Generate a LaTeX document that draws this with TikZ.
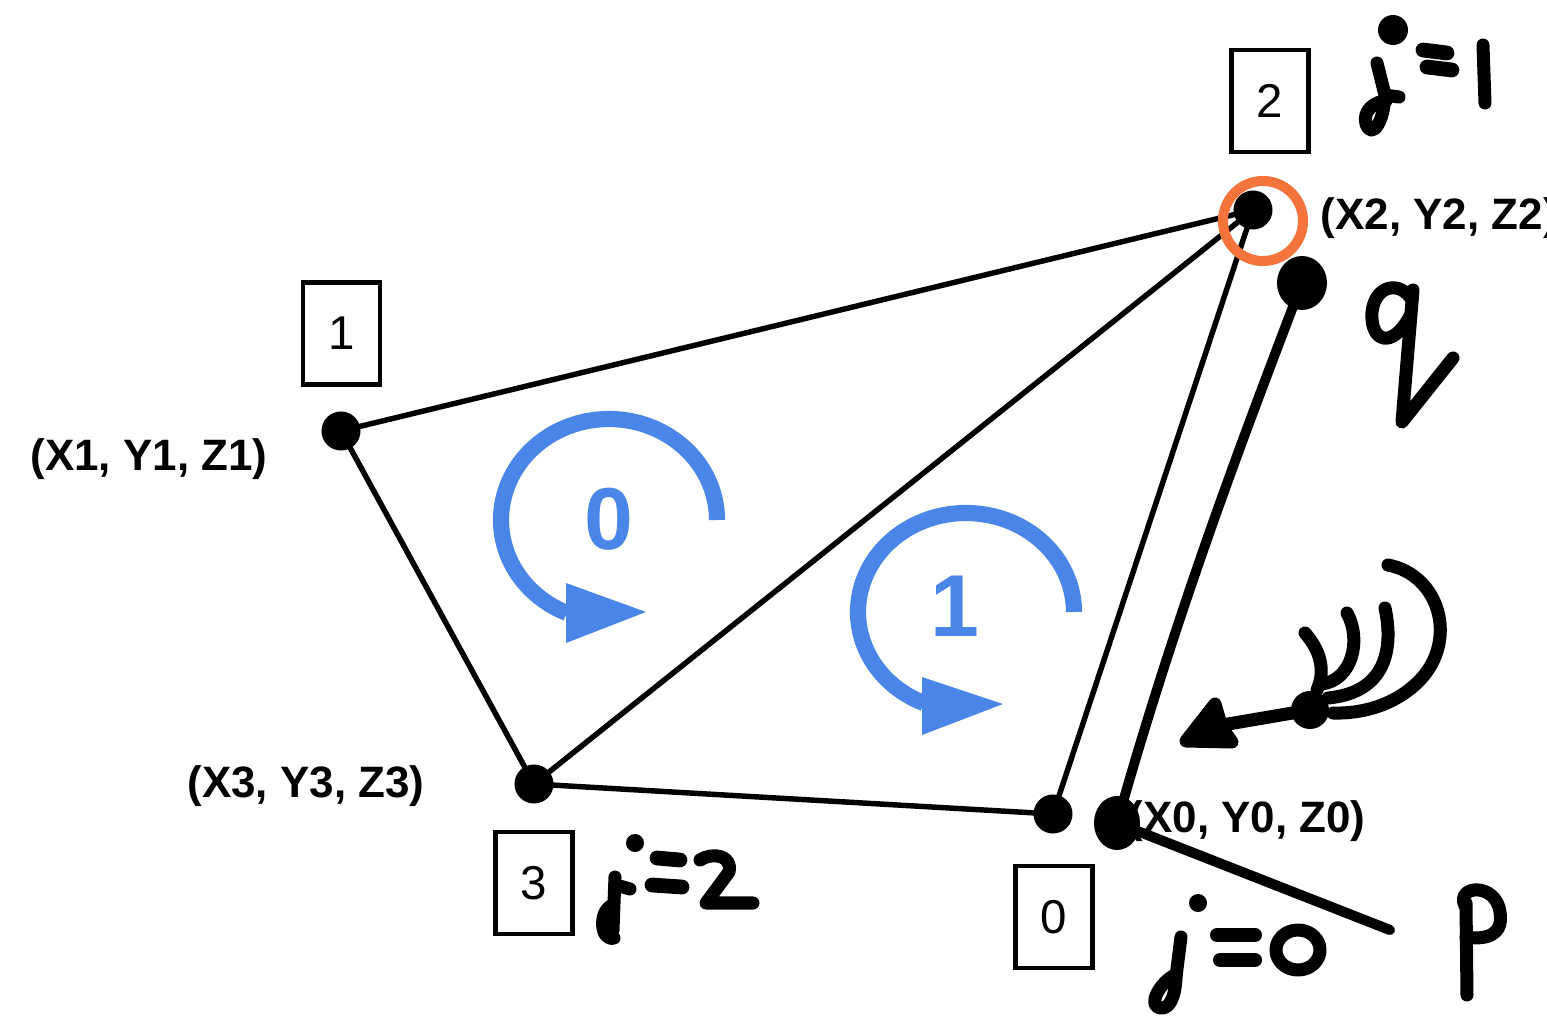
\documentclass[tikz,border=0pt]{standalone}
\usepackage{fontspec}
\setmainfont{Liberation Sans}
\definecolor{gblue}{HTML}{4A86E8}
\definecolor{gorange}{HTML}{F4743B}
\begin{document}
\begin{tikzpicture}[x=0.01cm,y=-0.01cm,
  vtx/.style={circle,fill=black,inner sep=0pt,minimum size=0.39cm},
  idx/.style={draw,line width=1.3pt,minimum width=0.77cm,minimum height=1.02cm,inner sep=0pt,font=\fontsize{13.5}{16}\selectfont},
  lbl/.style={inner sep=0pt,font=\bfseries\fontsize{12.5}{15}\selectfont},
  edgeline/.style={line width=1.55pt},
  hand/.style={line width=3.7pt,line cap=round,line join=round},
  rot/.style={gblue,line width=4.6pt},
  rothead/.style={fill=gblue},
  rotnum/.style={gblue,font=\bfseries\fontsize{25}{30}\selectfont}]
\useasboundingbox (0,0) rectangle (1547,1018);

% vertices
\node[vtx] (v1) at (341,431) {};
\node[vtx] (v2) at (1253,210) {};
\node[vtx] (v3) at (534,784) {};
\node[vtx] (v0) at (1053,814) {};

% edges
\draw[edgeline] (v1.center) -- (v2.center);
\draw[edgeline] (v1.center) -- (v3.center);
\draw[edgeline] (v3.center) -- (v2.center);
\draw[edgeline] (v3.center) -- (v0.center);
\draw[edgeline] (v0.center) -- (v2.center);

% orange highlight
\node[circle,draw=gorange,line width=2.85pt,minimum size=0.80cm,inner sep=0pt] (hl) at (1263,221) {};

% index boxes
\node[idx] (b1) at (341.5,333.5) {1};
\node[idx] (b2) at (1270,101) {2};
\node[idx] (b3) at (534,883) {3};
\node[idx] (b0) at (1054,917) {0};

% coordinate labels
\node[lbl] (l1) at (149,459) {(X1, Y1, Z1)};
\node[lbl] (l3) at (306,786) {(X3, Y3, Z3)};
\node[lbl,anchor=west] (l2) at (1320,218) {(X2, Y2, Z2)};
\node[lbl,anchor=west] (l0) at (1128,821) {(X0, Y0, Z0)};

% blue rotation arrows
\draw[rot] plot[domain=0:-247,samples=80,smooth,variable=\t] ({609+108*cos(\t)},{520+101*sin(\t)});
\fill[rothead] (566,583) -- (646,612) -- (566,643) -- cycle;
\node[rotnum] (r0) at (609,519) {0};
\draw[rot] plot[domain=0:-247,samples=80,smooth,variable=\t] ({966+108*cos(\t)},{612+99*sin(\t)});
\fill[rothead] (922,677) -- (1003,704) -- (922,735) -- cycle;
\node[rotnum] (r1) at (955,606) {1};

% handwritten q and p points
\coordinate (q) at (1302,283);
\coordinate (p) at (1117,823);
\fill (q) ellipse [x radius=0.25cm, y radius=0.27cm];
\fill (p) ellipse [x radius=0.23cm, y radius=0.27cm];
\draw[hand,line width=2.8pt] (q) .. controls (1250,420) and (1180,600) .. (p);
\draw[hand,line width=2.9pt] (p) -- (1390,930);

% j=1
\fill (1393,30) circle[radius=0.15cm];
\draw[hand] (1377,63) -- (1385,95) -- (1399,97);
\draw[hand] (1385,95) .. controls (1384,122) and (1372,140) .. (1366,124) .. controls (1362,110) and (1376,101) .. (1386,101);
\draw[hand,line width=4.2pt] (1423,50) -- (1447,53);
\draw[hand,line width=4.2pt] (1427,67) -- (1452,70);
\draw[hand] (1483,45) -- (1485,103);

% q
\draw[hand] (1412,300) .. controls (1400,280) and (1375,285) .. (1372,312) .. controls (1370,342) and (1392,350) .. (1410,316);
\draw[hand] (1413,290) -- (1402,422) -- (1453,358);

% swirl arrow
\draw[hand] (1388,565) .. controls (1440,575) and (1458,640) .. (1420,680) .. controls (1395,706) and (1360,714) .. (1333,713);
\draw[hand] (1385,608) .. controls (1392,640) and (1392,692) .. (1328,698);
\draw[hand] (1347,613) .. controls (1362,640) and (1352,680) .. (1322,684);
\draw[hand] (1305,633) .. controls (1320,650) and (1326,670) .. (1317,690);
\coordinate (sw) at (1310,710);
\fill (sw) circle[radius=0.19cm];
\coordinate (swtip) at (1205,728);
\draw[hand] (sw) -- (swtip);
\filldraw[hand] (1186,741) -- (1215,704) -- (1222,728) -- (1232,742) -- cycle;

% p letter
\draw[hand] (1466,903) -- (1467,995);
\draw[hand] (1465,906) .. controls (1455,885) and (1496,882) .. (1500,912) .. controls (1504,936) and (1485,940) .. (1466,937);

% j=0
\fill (1198,903) circle[radius=0.09cm];
\draw[hand] (1181,937) -- (1175,985);
\draw[hand] (1175,975) .. controls (1160,982) and (1147,1006) .. (1160,1008) .. controls (1172,1010) and (1176,990) .. (1176,975);
\draw[hand,line width=4.0pt] (1217,935) -- (1255,935);
\draw[hand,line width=4.0pt] (1220,960) -- (1255,960);
\draw[hand] (1298,950) ellipse[x radius=0.22cm, y radius=0.20cm];

% j=2
\fill (635,843) circle[radius=0.09cm];
\draw[hand] (615,877) -- (613,930);
\draw[hand] (616,885) -- (630,889);
\draw[hand] (613,905) .. controls (598,910) and (600,942) .. (614,938);
\draw[hand,line width=4.2pt] (657,858) -- (680,860);
\draw[hand,line width=4.2pt] (652,885) -- (682,887);
\draw[hand] (700,860) .. controls (712,852) and (733,855) .. (729,872) -- (706,903) -- (753,903);
\end{tikzpicture}
\end{document}
